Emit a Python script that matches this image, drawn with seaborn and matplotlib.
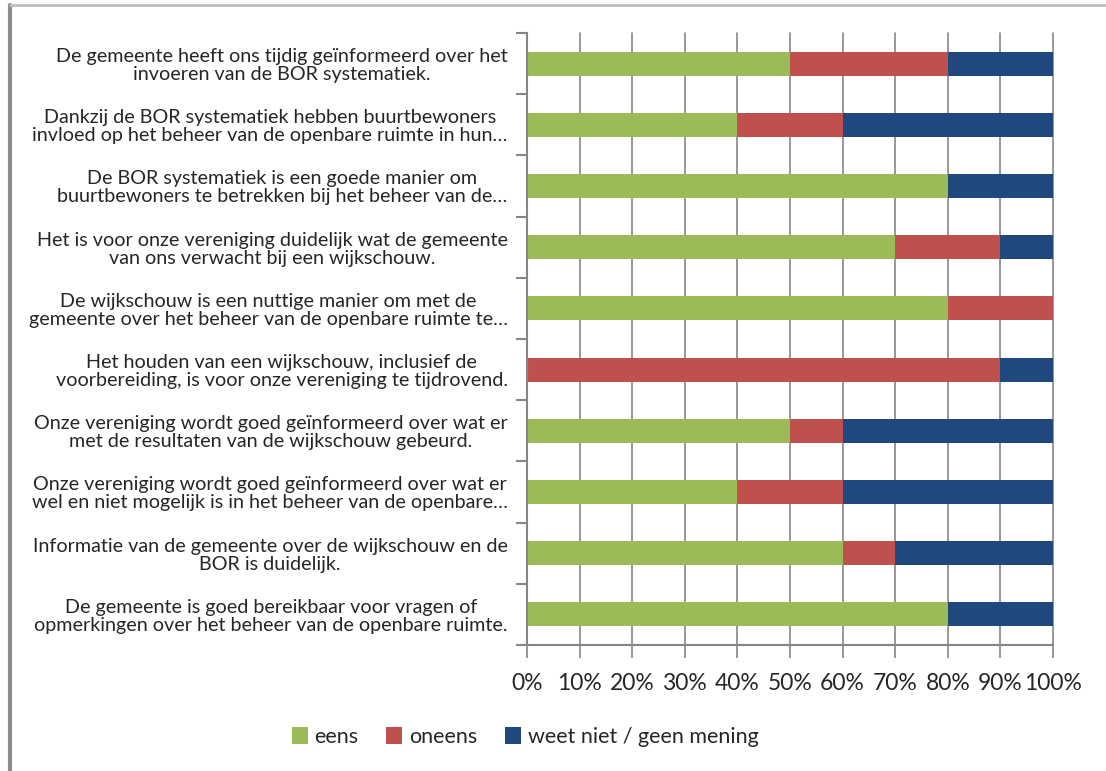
import numpy as np
import pandas as pd
import matplotlib
matplotlib.use("Agg")
import matplotlib.pyplot as plt
import seaborn as sns
from matplotlib.patches import Patch
from matplotlib.lines import Line2D

categories = [
    "De gemeente heeft ons tijdig geïnformeerd over het\ninvoeren van de BOR systematiek.",
    "Dankzij de BOR systematiek hebben buurtbewoners\ninvloed op het beheer van de openbare ruimte in hun…",
    "De BOR systematiek is een goede manier om\nbuurtbewoners te betrekken bij het beheer van de…",
    "Het is voor onze vereniging duidelijk wat de gemeente\nvan ons verwacht bij een wijkschouw.",
    "De wijkschouw is een nuttige manier om met de\ngemeente over het beheer van de openbare ruimte te…",
    "Het houden van een wijkschouw, inclusief de\nvoorbereiding, is voor onze vereniging te tijdrovend.",
    "Onze vereniging wordt goed geïnformeerd over wat er\nmet de resultaten van de wijkschouw gebeurd.",
    "Onze vereniging wordt goed geïnformeerd over wat er\nwel en niet mogelijk is in het beheer van de openbare…",
    "Informatie van de gemeente over de wijkschouw en de\nBOR is duidelijk.",
    "De gemeente is goed bereikbaar voor vragen of\nopmerkingen over het beheer van de openbare ruimte.",
]
eens = [0.5, 0.4, 0.8, 0.7, 0.8, 0.0, 0.5, 0.4, 0.6, 0.8]
oneens = [0.3, 0.2, 0.0, 0.2, 0.2, 0.9, 0.1, 0.2, 0.1, 0.0]
weet_niet = [0.2, 0.4, 0.2, 0.1, 0.0, 0.1, 0.4, 0.4, 0.3, 0.2]
series_names = ["eens", "oneens", "weet niet / geen mening"]
x_ticks = [0.0, 0.1, 0.2, 0.3, 0.4, 0.5, 0.6, 0.7, 0.8, 0.9, 1.0]
x_tick_labels = ["0%", "10%", "20%", "30%", "40%", "50%", "60%", "70%", "80%", "90%", "100%"]

colors = ["#9BBB59", "#C0504D", "#1F497D"]
grey = "#868686"

sns.set_theme(style="white")
plt.rcParams["font.family"] = ["Lato", "DejaVu Sans"]

df = pd.DataFrame({"cat": categories, "eens": eens, "oneens": oneens, "weet": weet_niet})
df["c1"] = df["eens"]
df["c2"] = df["eens"] + df["oneens"]
df["c3"] = df["eens"] + df["oneens"] + df["weet"]

fig = plt.figure(figsize=(11.06, 7.71), dpi=100)
ax = fig.add_axes([527 / 1106, 1 - 645 / 771, (1053 - 527) / 1106, (645 - 33) / 771])

bw = 0.39
for col, c in zip(["c3", "c2", "c1"], [colors[2], colors[1], colors[0]]):
    sns.barplot(data=df, x=col, y="cat", color=c, width=bw, ax=ax,
                saturation=1, linewidth=0, zorder=3)

ax.set_xlim(0, 1)
ax.set_ylim(len(categories) - 0.5, -0.5)
ax.set_xlabel("")
ax.set_ylabel("")

ax.set_xticks(x_ticks)
ax.set_xticklabels(x_tick_labels, fontsize=16.5)
for x in x_ticks:
    ax.axvline(x, color=grey, lw=1.2, zorder=1, clip_on=False)

ax.set_yticks(range(len(categories)))
ax.set_yticklabels(categories, fontsize=14.2, multialignment="center", linespacing=1.07)
ax.set_yticks(np.arange(-0.5, len(categories), 1.0), minor=True)
ax.tick_params(axis="y", which="major", length=0, pad=14)
ax.tick_params(axis="y", which="minor", length=8, width=1.5, color=grey, direction="out", left=True)
ax.tick_params(axis="x", which="major", length=9, width=1.2, color=grey, direction="out", bottom=True, pad=11)

for s in ["top", "right"]:
    ax.spines[s].set_visible(False)
for s in ["left", "bottom"]:
    ax.spines[s].set_color(grey)
    ax.spines[s].set_linewidth(1.5)
    ax.spines[s].set_zorder(4)

handles = [Patch(facecolor=c, edgecolor="none") for c in colors]
fig.legend(handles, series_names, loc="center", bbox_to_anchor=(525 / 1106, 1 - 737 / 771),
           ncol=3, frameon=False, fontsize=15.5, handlelength=0.75, handleheight=0.85,
           handletextpad=0.3, columnspacing=1.3)

# outer frame (left and top edges)
fig.add_artist(Line2D([10 / 1106, 10 / 1106], [0, 1 - 5 / 771], transform=fig.transFigure,
                      color="#8c8c8c", lw=3))
fig.add_artist(Line2D([10 / 1106, 1], [1 - 5 / 771, 1 - 5 / 771], transform=fig.transFigure,
                      color="#bdbdbd", lw=2))

fig.savefig("out.png", dpi=100, facecolor="white")
